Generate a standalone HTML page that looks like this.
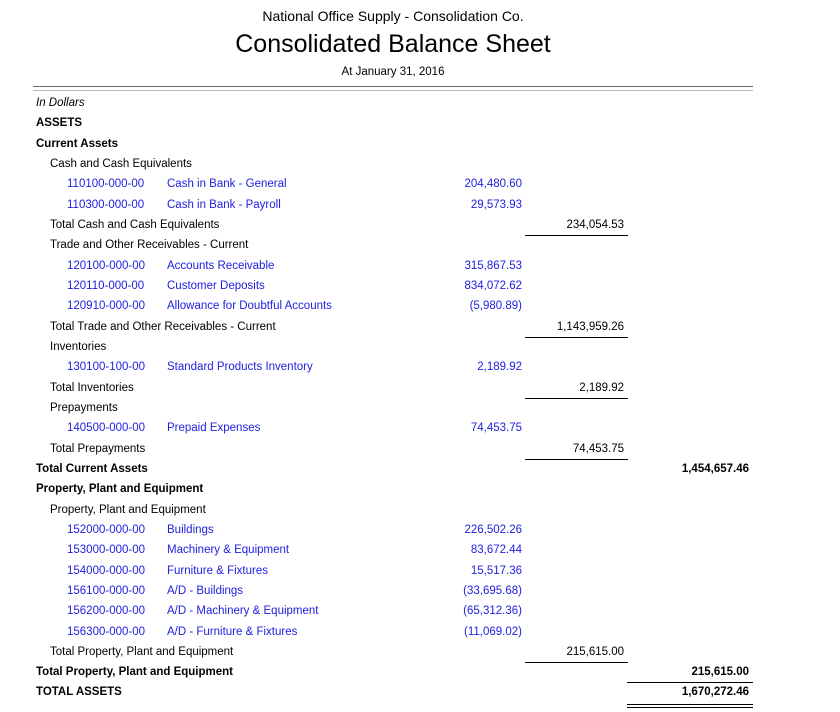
<!DOCTYPE html>
<html><head><meta charset="utf-8"><style>
body{margin:0;width:840px;height:712px;background:#fff;position:relative;overflow:hidden;font-family:"Liberation Sans",sans-serif;color:#000}
.r{position:absolute;font-size:11.5px;line-height:14px;white-space:nowrap}
.b{font-weight:bold}.u{color:#2020e0}
.n{text-align:right}
.l{position:absolute;height:0;border-top:1px solid #000}
</style></head><body>
<div class="r" style="left:0;width:786px;text-align:center;top:7px;font-size:14px;line-height:18px">National Office Supply - Consolidation Co.</div>
<div class="r" style="left:0;width:786px;text-align:center;top:28px;font-size:25px;line-height:32px">Consolidated Balance Sheet</div>
<div class="r" style="left:0;width:786px;text-align:center;top:65px;font-size:11.5px">At January 31, 2016</div>
<div class="l" style="left:33px;width:720px;top:86px;border-color:#666"></div>
<div class="l" style="left:33px;width:720px;top:90px;border-color:#bbb"></div>

<div class="r" style="left:36px;top:96px;font-style:italic">In Dollars</div>
<div class="r b" style="left:36px;top:116px">ASSETS</div>
<div class="r b" style="left:36px;top:137px">Current Assets</div>
<div class="r" style="left:50px;top:157px">Cash and Cash Equivalents</div>
<div class="r u" style="left:67px;top:177px">110100-000-00</div><div class="r u" style="left:167px;top:177px">Cash in Bank - General</div><div class="r u n" style="right:318px;top:177px">204,480.60</div>
<div class="r u" style="left:67px;top:198px">110300-000-00</div><div class="r u" style="left:167px;top:198px">Cash in Bank - Payroll</div><div class="r u n" style="right:318px;top:198px">29,573.93</div>
<div class="r" style="left:50px;top:218px">Total Cash and Cash Equivalents</div><div class="r n" style="right:216px;top:218px">234,054.53</div>
<div class="l" style="left:525px;width:103px;top:235px"></div>
<div class="r" style="left:50px;top:238px">Trade and Other Receivables - Current</div>
<div class="r u" style="left:67px;top:259px">120100-000-00</div><div class="r u" style="left:167px;top:259px">Accounts Receivable</div><div class="r u n" style="right:318px;top:259px">315,867.53</div>
<div class="r u" style="left:67px;top:279px">120110-000-00</div><div class="r u" style="left:167px;top:279px">Customer Deposits</div><div class="r u n" style="right:318px;top:279px">834,072.62</div>
<div class="r u" style="left:67px;top:299px">120910-000-00</div><div class="r u" style="left:167px;top:299px">Allowance for Doubtful Accounts</div><div class="r u n" style="right:318px;top:299px">(5,980.89)</div>
<div class="r" style="left:50px;top:320px">Total Trade and Other Receivables - Current</div><div class="r n" style="right:216px;top:320px">1,143,959.26</div>
<div class="l" style="left:525px;width:103px;top:337px"></div>
<div class="r" style="left:50px;top:340px">Inventories</div>
<div class="r u" style="left:67px;top:360px">130100-100-00</div><div class="r u" style="left:167px;top:360px">Standard Products Inventory</div><div class="r u n" style="right:318px;top:360px">2,189.92</div>
<div class="r" style="left:50px;top:381px">Total Inventories</div><div class="r n" style="right:216px;top:381px">2,189.92</div>
<div class="l" style="left:525px;width:103px;top:398px"></div>
<div class="r" style="left:50px;top:401px">Prepayments</div>
<div class="r u" style="left:67px;top:421px">140500-000-00</div><div class="r u" style="left:167px;top:421px">Prepaid Expenses</div><div class="r u n" style="right:318px;top:421px">74,453.75</div>
<div class="r" style="left:50px;top:442px">Total Prepayments</div><div class="r n" style="right:216px;top:442px">74,453.75</div>
<div class="l" style="left:525px;width:103px;top:459px"></div>
<div class="r b" style="left:36px;top:462px">Total Current Assets</div><div class="r b n" style="right:91px;top:462px">1,454,657.46</div>
<div class="r b" style="left:36px;top:482px">Property, Plant and Equipment</div>
<div class="r" style="left:50px;top:503px">Property, Plant and Equipment</div>
<div class="r u" style="left:67px;top:523px">152000-000-00</div><div class="r u" style="left:167px;top:523px">Buildings</div><div class="r u n" style="right:318px;top:523px">226,502.26</div>
<div class="r u" style="left:67px;top:543px">153000-000-00</div><div class="r u" style="left:167px;top:543px">Machinery &amp; Equipment</div><div class="r u n" style="right:318px;top:543px">83,672.44</div>
<div class="r u" style="left:67px;top:564px">154000-000-00</div><div class="r u" style="left:167px;top:564px">Furniture &amp; Fixtures</div><div class="r u n" style="right:318px;top:564px">15,517.36</div>
<div class="r u" style="left:67px;top:584px">156100-000-00</div><div class="r u" style="left:167px;top:584px">A/D - Buildings</div><div class="r u n" style="right:318px;top:584px">(33,695.68)</div>
<div class="r u" style="left:67px;top:604px">156200-000-00</div><div class="r u" style="left:167px;top:604px">A/D - Machinery &amp; Equipment</div><div class="r u n" style="right:318px;top:604px">(65,312.36)</div>
<div class="r u" style="left:67px;top:625px">156300-000-00</div><div class="r u" style="left:167px;top:625px">A/D - Furniture &amp; Fixtures</div><div class="r u n" style="right:318px;top:625px">(11,069.02)</div>
<div class="r" style="left:50px;top:645px">Total Property, Plant and Equipment</div><div class="r n" style="right:216px;top:645px">215,615.00</div>
<div class="l" style="left:525px;width:103px;top:662px"></div>
<div class="r b" style="left:36px;top:665px">Total Property, Plant and Equipment</div><div class="r b n" style="right:91px;top:665px">215,615.00</div>
<div class="l" style="left:627px;width:126px;top:682px"></div>
<div class="r b" style="left:36px;top:685px">TOTAL ASSETS</div><div class="r b n" style="right:91px;top:685px">1,670,272.46</div>
<div class="l" style="left:627px;width:126px;top:704px"></div>
<div class="l" style="left:627px;width:126px;top:707px"></div>
</body></html>
